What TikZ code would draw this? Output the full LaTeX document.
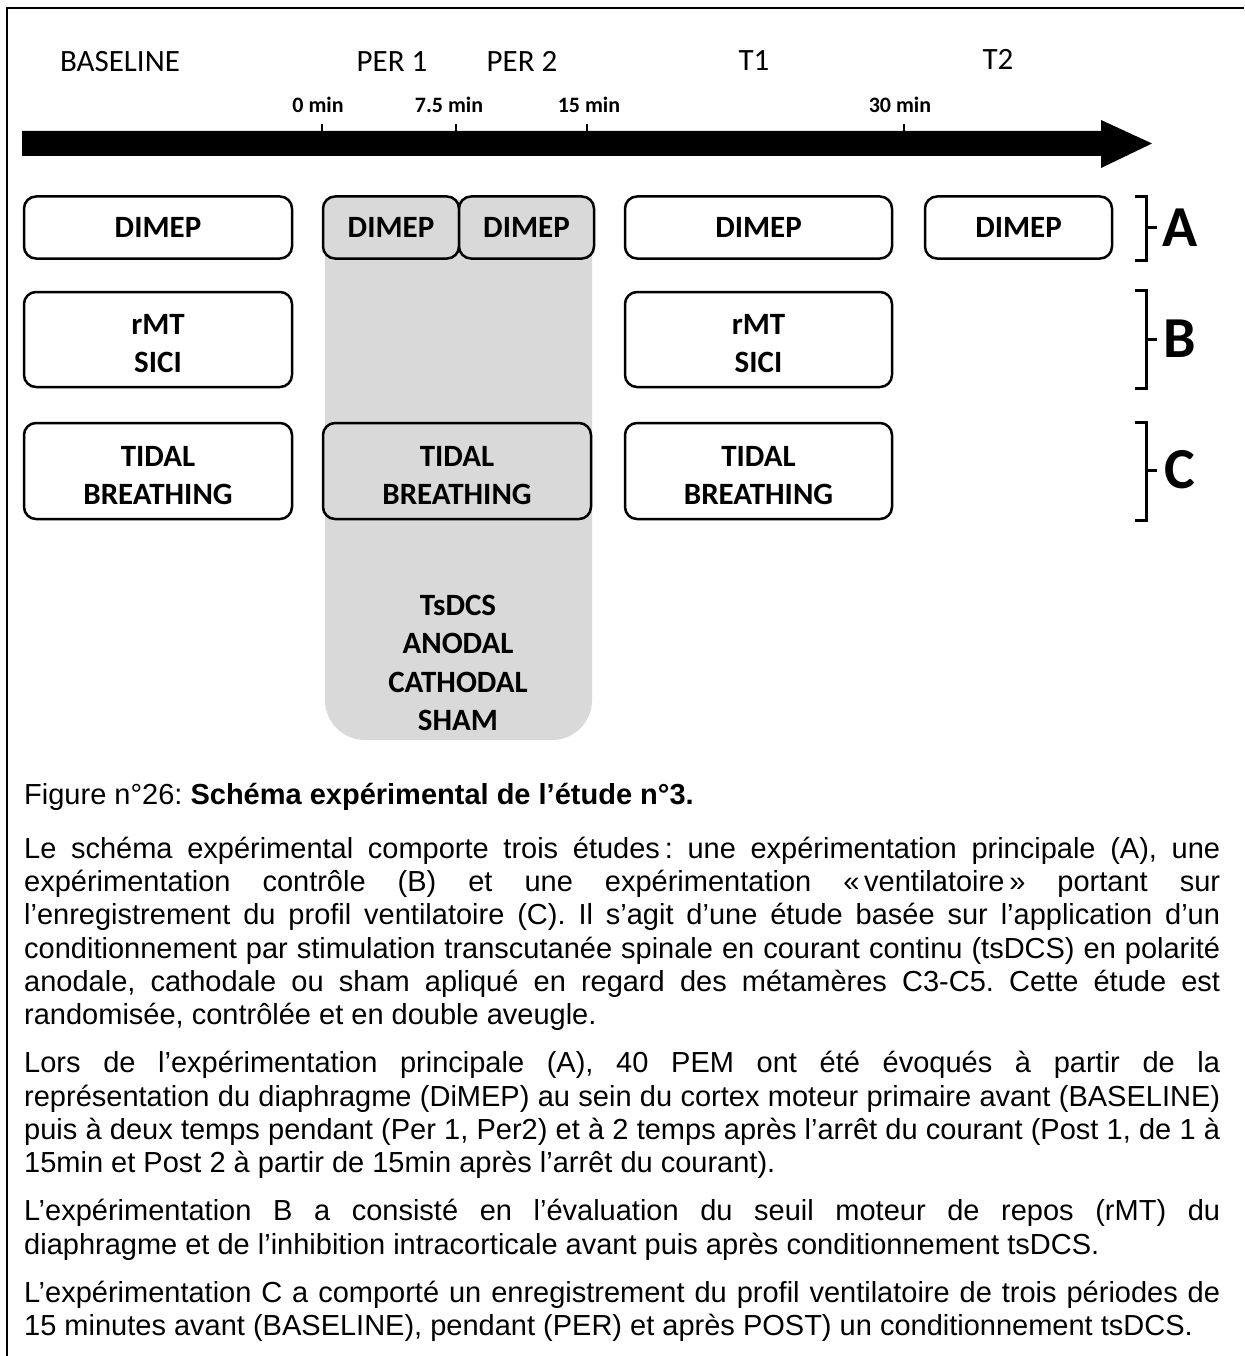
\documentclass[tikz,border=0pt]{standalone}
\usepackage{fontspec}
\setmainfont{Liberation Sans}
\newfontfamily\calfont{Carlito}
\definecolor{panelgray}{HTML}{D9D9D9}
\frenchspacing
\tikzset{
  box/.style={draw, line width=2.5pt, rounded corners=12pt, fill=white, inner sep=0pt,
    align=center, font=\calfont\bfseries\fontsize{31}{38}\selectfont},
  graybox/.style={box, fill=panelgray},
  toplabel/.style={anchor=base, inner sep=0pt, font=\calfont\fontsize{31}{36}\selectfont},
  timelabel/.style={anchor=base, inner sep=0pt, font=\calfont\bfseries\fontsize{22}{26}\selectfont},
  letter/.style={inner sep=0pt, font=\calfont\bfseries\fontsize{58}{60}\selectfont},
  bracket/.style={line width=3pt},
  tick/.style={line width=1.5pt},
  txt/.style={anchor=base west, inner sep=0pt, font=\fontsize{29}{33.35}\selectfont},
}
\newcommand{\jline}[1]{\makebox[1196pt][s]{#1}}
\newcommand{\topstrut}{\rule{0pt}{29pt}}
\begin{document}
\begin{tikzpicture}[x=1pt,y=-1pt]
\useasboundingbox (0,0) rectangle (1244,1356);
\fill[white] (0,0) rectangle (1244,1356);
% frame
\draw[line width=2pt] (7,1356) -- (7,8) -- (1244,8);

% timeline arrow
\fill (22,131) -- (1101,131) -- (1101,120) -- (1152,143.5) -- (1101,168) -- (1101,156) -- (22,156) -- cycle;
\coordinate (t0) at (322,131);
\coordinate (t1) at (456,131);
\coordinate (t2) at (587,131);
\coordinate (t3) at (904,131);
\foreach \t in {t0,t1,t2,t3} \draw[tick] (\t) -- ++(0,-7);

% top labels
\node[toplabel] (lbase) at (120,72) {BASELINE};
\node[toplabel] (lper1) at (392,72) {PER 1};
\node[toplabel] (lper2) at (522,72) {PER 2};
\node[toplabel] (lt1) at (754,71) {T1};
\node[toplabel] (lt2) at (998,70) {T2};
\node[timelabel] (m0) at (318,113) {0 min};
\node[timelabel] (m75) at (449,113) {7.5 min};
\node[timelabel] (m15) at (589,113) {15 min};
\node[timelabel] (m30) at (900,113) {30 min};

% gray stimulation panel
\fill[panelgray, rounded corners=40pt] (325,200) rectangle (592,740);
\node[inner sep=0pt, align=center, font=\calfont\bfseries\fontsize{31}{38.3}\selectfont] (stim) at (458,663) {TsDCS\\ANODAL\\CATHODAL\\SHAM};

% row A
\node[box, minimum width=268pt, minimum height=62pt] (aB) at (158,227.5) {DIMEP};
\node[graybox, minimum width=136pt, minimum height=62pt] (aP1) at (391,227.5) {DIMEP};
\node[graybox, minimum width=135pt, minimum height=62pt] (aP2) at (526.5,227.5) {DIMEP};
\node[box, minimum width=267pt, minimum height=62pt] (aT1) at (758.5,227.5) {DIMEP};
\node[box, minimum width=187pt, minimum height=62pt] (aT2) at (1018.5,227.5) {DIMEP};
% row B
\node[box, minimum width=268pt, minimum height=95pt] (bB) at (158,339.5) {\topstrut rMT\\SICI};
\node[box, minimum width=267pt, minimum height=95pt] (bT1) at (758.5,339.5) {\topstrut rMT\\SICI};
% row C
\node[box, minimum width=268pt, minimum height=96pt] (cB) at (158,471) {\topstrut TIDAL\\BREATHING};
\node[graybox, minimum width=268pt, minimum height=96pt] (cP) at (457,471) {\topstrut TIDAL\\BREATHING};
\node[box, minimum width=267pt, minimum height=96pt] (cT1) at (758.5,471) {\topstrut TIDAL\\BREATHING};

% brackets
\draw[bracket] (1135,197) -- (1146,197) -- (1146,260) -- (1135,260);
\draw[bracket] (1146,228) -- (1157,228);
\node[letter] (LA) at (1180,228) {A};
\draw[bracket] (1135,290) -- (1146,290) -- (1146,388) -- (1135,388);
\draw[bracket] (1146,339) -- (1157,339);
\node[letter] (LB) at (1180,339) {B};
\draw[bracket] (1135,422) -- (1146,422) -- (1146,520) -- (1135,520);
\draw[bracket] (1146,470) -- (1157,470);
\node[letter] (LC) at (1180,470) {C};

% caption
\node[txt] (title) at (24,804) {Figure n°26: \textbf{Schéma expérimental de l’étude n°3.}};

\node[txt] (p1a) at (24,858) {\jline{Le schéma expérimental comporte trois études\,: une expérimentation principale (A), une}};
\node[txt] (p1b) at (24,891.4) {\jline{expérimentation contrôle (B) et une expérimentation «\,ventilatoire\,» portant sur}};
\node[txt] (p1c) at (24,924.7) {\jline{l’enregistrement du profil ventilatoire (C). Il s’agit d’une étude basée sur l’application d’un}};
\node[txt] (p1d) at (24,958.1) {\jline{conditionnement par stimulation transcutanée spinale en courant continu (tsDCS) en polarité}};
\node[txt] (p1e) at (24,991.4) {\jline{anodale, cathodale ou sham apliqué en regard des métamères C3-C5. Cette étude est}};
\node[txt] (p1f) at (24,1024.8) {randomisée, contrôlée et en double aveugle.};

\node[txt] (p2a) at (24,1072.8) {\jline{Lors de l’expérimentation principale (A), 40 PEM ont été évoqués à partir de la}};
\node[txt] (p2b) at (24,1106.2) {\jline{représentation du diaphragme (DiMEP) au sein du cortex moteur primaire avant (BASELINE)}};
\node[txt] (p2c) at (24,1139.5) {\jline{puis à deux temps pendant (Per 1, Per2) et à 2 temps après l’arrêt du courant (Post 1, de 1 à}};
\node[txt] (p2d) at (24,1172.9) {15min et Post 2 à partir de 15min après l’arrêt du courant).};

\node[txt] (p3a) at (24,1220.9) {\jline{L’expérimentation B a consisté en l’évaluation du seuil moteur de repos (rMT) du}};
\node[txt] (p3b) at (24,1254.2) {diaphragme et de l’inhibition intracorticale avant puis après conditionnement tsDCS.};

\node[txt] (p4a) at (24,1302.2) {\jline{L’expérimentation C a comporté un enregistrement du profil ventilatoire de trois périodes de}};
\node[txt] (p4b) at (24,1335.6) {15 minutes avant (BASELINE), pendant (PER) et après POST) un conditionnement tsDCS.};
\end{tikzpicture}
\end{document}
